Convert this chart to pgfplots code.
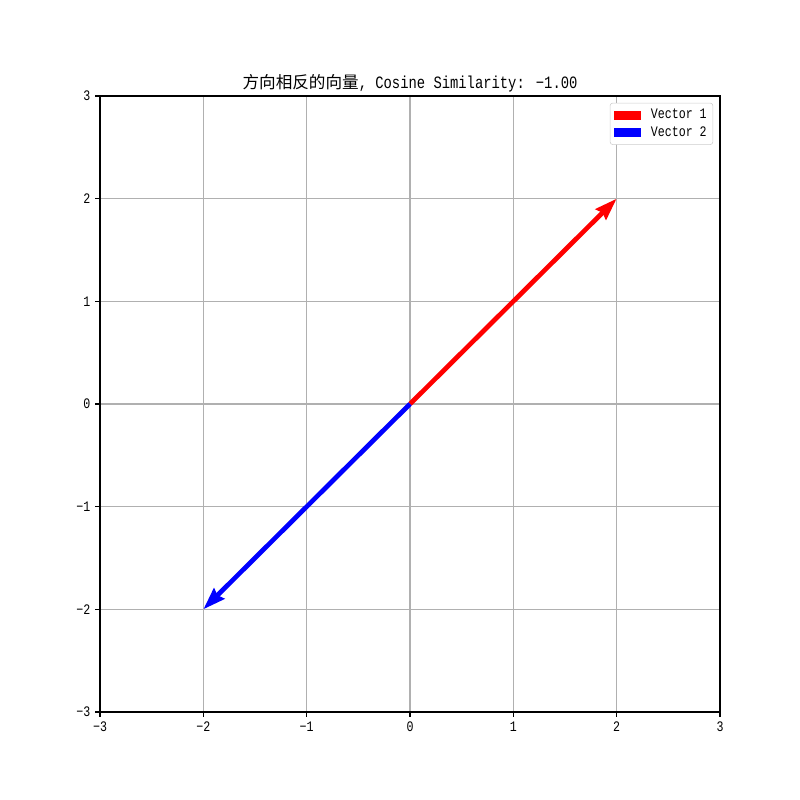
\documentclass[border=0pt]{standalone}
\usepackage{fontspec}
\setmainfont{Noto Sans CJK SC}
\newfontfamily\monolat[FakeStretch=0.8]{Liberation Mono}
\usepackage{pgfplots}
\pgfplotsset{compat=1.18}
\usetikzlibrary{arrows.meta}
\definecolor{gridgray}{HTML}{B0B0B0}
\definecolor{legframe}{HTML}{CCCCCC}
\begin{document}
\begin{tikzpicture}
\begin{axis}[
  name=ax,
  scale only axis,
  width=6.2in, height=6.16in,
  xmin=-3, xmax=3, ymin=-3, ymax=3,
  xtick={-3,-2,-1,0,1,2,3},
  ytick={-3,-2,-1,0,1,2,3},
  xticklabels={−3,−2,−1,0,1,2,3},
  yticklabels={−3,−2,−1,0,1,2,3},
  grid=major,
  grid style={color=gridgray, line width=0.8pt},
  axis line style={line width=0.8pt},
  tick style={black, line width=0.8pt},
  tick align=outside,
  tick pos=left,
  major tick length=3.5pt,
  tick label style={font=\monolat\fontsize{10.5}{12}\selectfont},
  title={方向相反的向量{\monolat\fontsize{12.5}{14}\selectfont, Cosine Similarity: −1.00}},
  title style={font=\fontsize{12}{14}\selectfont, yshift=-7pt},
  legend style={
    at={(0.989,0.989)}, anchor=north east,
    font=\monolat\fontsize{10.5}{12}\selectfont,
    draw=legframe, rounded corners=2pt,
    row sep=0pt, inner sep=2.5pt,
  },
  legend cell align=left,
]
  % Vector 1
  \addplot[red, line width=3.4pt,
    quiver={u=\thisrow{u}, v=\thisrow{v}},
    -{Stealth[length=16pt, width=10.5pt, inset=1.6pt]},
    legend image code/.code={
      \path[fill=red, draw=none, sharp corners, -] (0pt,-3.3pt) rectangle (20pt,3.3pt);
      \path[draw=none, fill=none, -] (20pt,-3pt) rectangle (25pt,3pt);}]
    table {
      x y u v
      0 0 2 2
    };
  \addlegendentry{Vector 1}
  % Vector 2
  \addplot[blue, line width=3.4pt,
    quiver={u=\thisrow{u}, v=\thisrow{v}},
    -{Stealth[length=16pt, width=10.5pt, inset=1.6pt]},
    legend image code/.code={
      \path[fill=blue, draw=none, sharp corners, -] (0pt,-3.3pt) rectangle (20pt,3.3pt);
      \path[draw=none, fill=none, -] (20pt,-3pt) rectangle (25pt,3pt);}]
    table {
      x y u v
      0 0 -2 -2
    };
  \addlegendentry{Vector 2}
\end{axis}
\path ([shift={(-1in,-0.88in)}]ax.south west) rectangle ([shift={(0.8in,0.96in)}]ax.north east);
\end{tikzpicture}
\end{document}
